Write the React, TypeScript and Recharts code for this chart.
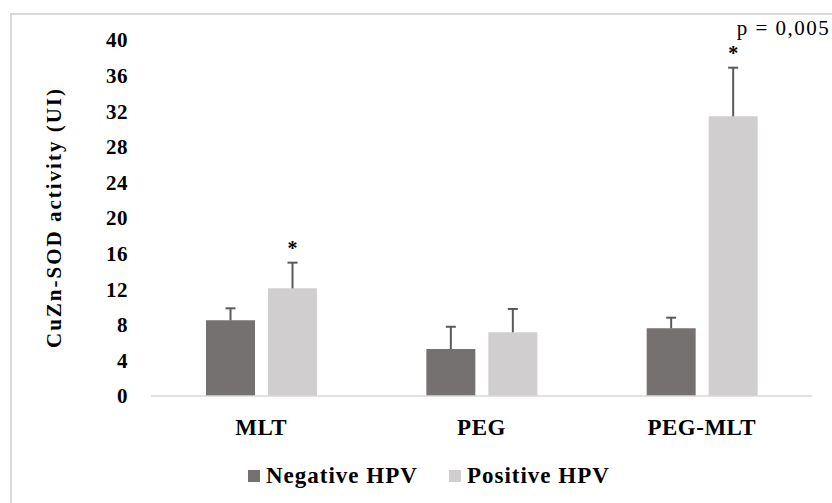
import { BarChart, Bar, XAxis, YAxis, Legend, LabelList } from 'recharts';

const categories = ['MLT', 'PEG', 'PEG-MLT'];
const negativeHpv = [8.5, 5.28, 7.61];
const positiveHpv = [12.1, 7.16, 31.43];
const negativeSd = [1.35, 2.5, 1.19];
const positiveSd = [2.88, 2.62, 5.46];
const significance = ['*', '', '*'];
const pValues = ['', '', 'p = 0,005'];
const yTicks = [0, 4, 8, 12, 16, 20, 24, 28, 32, 36, 40];

const NEG_COLOR = '#767171';
const POS_COLOR = '#d0cece';
const ERR_COLOR = '#595959';
const FONT = 'Liberation Serif';

const data = categories.map((name, i) => ({
  name,
  neg: negativeHpv[i],
  negErr: negativeSd[i],
  pos: positiveHpv[i],
  posErr: positiveSd[i],
  star: significance[i],
  p: pValues[i],
}));

// upward-only error bar drawn on the stacked sd segment
const ErrorShape = (props: any) => {
  const { x, y, width, height } = props;
  const cx = x + width / 2;
  return (
    <g>
      <line x1={cx} y1={y + height} x2={cx} y2={y} stroke={ERR_COLOR} strokeWidth={2} />
      <line x1={cx - 5} y1={y} x2={cx + 5} y2={y} stroke={ERR_COLOR} strokeWidth={2} />
    </g>
  );
};

const XTick = ({ x, y, payload }: any) => (
  <text
    x={x}
    y={y + 39}
    textAnchor="middle"
    fill="#000"
    fontSize={23}
    fontWeight="bold"
    fontFamily={FONT}
    letterSpacing={0.5}
  >
    {payload.value}
  </text>
);

const StarLabel = (props: any) => {
  const { x, y, width, value } = props;
  if (!value) return null;
  return (
    <text x={x + width / 2} y={y - 8} textAnchor="middle" fontSize={20} fontWeight="bold" fontFamily={FONT} fill="#000">
      {value}
    </text>
  );
};

const PLabel = (props: any) => {
  const { x, y, width, value } = props;
  if (!value) return null;
  return (
    <text x={x + width / 2 + 3.5} y={y - 33} textAnchor="start" fontSize={21} fontFamily={FONT} fill="#000" letterSpacing={1.5}>
      {value}
    </text>
  );
};

const LegendContent = () => {
  const item = (color: string, label: string) => (
    <div style={{ display: 'flex', alignItems: 'center' }}>
      <span style={{ width: 12, height: 12, background: color, marginRight: 6, display: 'inline-block' }} />
      <span style={{ fontFamily: FONT, fontWeight: 'bold', fontSize: 23, letterSpacing: 1, color: '#000', lineHeight: '28px' }}>
        {label}
      </span>
    </div>
  );
  return (
    <div style={{ display: 'flex', gap: 31, paddingLeft: 248 }}>
      {item(NEG_COLOR, 'Negative HPV')}
      {item(POS_COLOR, 'Positive HPV')}
    </div>
  );
};

export default function App() {
  return (
    <div style={{ position: 'absolute', left: 0, top: 0, width: 832, height: 503, overflow: 'hidden', background: '#fff' }}>
      <div
        style={{
          position: 'absolute',
          left: 10,
          top: 13,
          width: 900,
          height: 600,
          border: '2px solid #d9d9d9',
          boxSizing: 'border-box',
        }}
      />
      <div style={{ position: 'absolute', left: 0, top: 0 }}>
        <BarChart
          width={832}
          height={503}
          data={data}
          margin={{ top: 40, right: 20, bottom: 47, left: 0 }}
          barSize={49}
          barGap={13}
        >
          <XAxis
            dataKey="name"
            height={60}
            tickLine={false}
            tickSize={0}
            tickMargin={0}
            axisLine={{ stroke: '#d9d9d9', strokeWidth: 1.5 }}
            tick={<XTick />}
          />
          <YAxis
            width={151}
            domain={[0, 40]}
            ticks={yTicks}
            axisLine={false}
            tickLine={false}
            tickSize={0}
            tickMargin={23}
            interval={0}
            tick={{ fill: '#000', fontSize: 21, fontWeight: 'bold', fontFamily: FONT, letterSpacing: 0.5 }}
            label={{
              content: () => (
                <text
                  x={61}
                  y={217.5}
                  transform="rotate(-90 61 217.5)"
                  textAnchor="middle"
                  fontSize={21}
                  fontWeight="bold"
                  fontFamily={FONT}
                  letterSpacing={2}
                  fill="#000"
                >
                  CuZn-SOD activity (UI)
                </text>
              ),
            }}
          />
          <Legend
            verticalAlign="middle"
            align="center"
            layout="horizontal"
            content={<LegendContent />}
            wrapperStyle={{ top: 462, left: 0, width: 832 }}
          />
          <Bar dataKey="neg" stackId="neg" fill={NEG_COLOR} isAnimationActive={false} />
          <Bar dataKey="negErr" stackId="neg" fill="none" shape={<ErrorShape />} isAnimationActive={false} />
          <Bar dataKey="pos" stackId="pos" fill={POS_COLOR} isAnimationActive={false} />
          <Bar dataKey="posErr" stackId="pos" fill="none" shape={<ErrorShape />} isAnimationActive={false}>
            <LabelList dataKey="star" content={<StarLabel />} />
            <LabelList dataKey="p" content={<PLabel />} />
          </Bar>
        </BarChart>
      </div>
    </div>
  );
}
